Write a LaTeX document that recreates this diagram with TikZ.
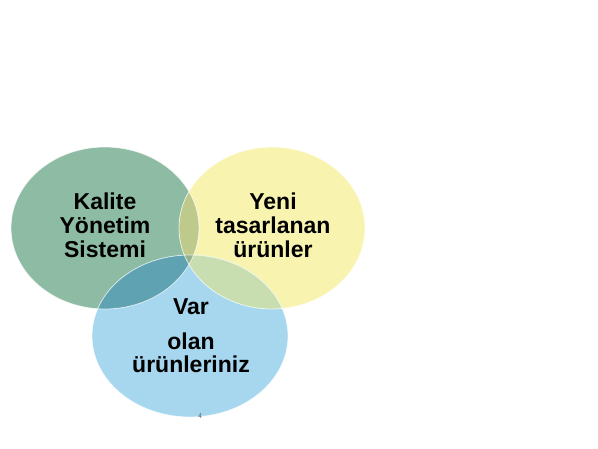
\documentclass[tikz,border=0pt]{standalone}
\usepackage{fontspec}
\setmainfont{Liberation Sans}
\definecolor{cG}{RGB}{142,187,163}
\definecolor{cY}{RGB}{248,244,176}
\definecolor{cB}{RGB}{166,215,238}
\definecolor{cGY}{RGB}{190,202,140}
\definecolor{cGB}{RGB}{95,163,178}
\definecolor{cYB}{RGB}{200,222,176}
\definecolor{cGYB}{RGB}{150,178,140}
\definecolor{cPg}{RGB}{90,100,110}
\begin{document}
\begin{tikzpicture}[x=1pt,y=-1pt,
  lbl/.style={font=\bfseries\fontsize{23}{27}\selectfont, text=black, anchor=base, inner sep=0pt},
  rim/.style={draw=white, draw opacity=0.7, line width=0.8pt}]
\useasboundingbox (0,0) rectangle (598,449);
\fill[white] (0,0) rectangle (598,449);
% base ellipses
\fill[cG] (105,228) ellipse [x radius=94, y radius=81];
\fill[cY] (272,228) ellipse [x radius=93, y radius=81];
\fill[cB] (190,336) ellipse [x radius=98, y radius=81];
% pairwise overlaps
\begin{scope}
  \clip (105,228) ellipse [x radius=94, y radius=81];
  \fill[cGY] (272,228) ellipse [x radius=93, y radius=81];
  \fill[cGB] (190,336) ellipse [x radius=98, y radius=81];
  \begin{scope}
    \clip (272,228) ellipse [x radius=93, y radius=81];
    \fill[cGYB] (190,336) ellipse [x radius=98, y radius=81];
  \end{scope}
\end{scope}
\begin{scope}
  \clip (272,228) ellipse [x radius=93, y radius=81];
  \begin{scope}
    \clip (190,336) ellipse [x radius=98, y radius=81];
    \fill[cYB] (190,336) ellipse [x radius=98, y radius=81];
    \fill[cGYB] (105,228) ellipse [x radius=94, y radius=81];
  \end{scope}
\end{scope}
% rims
\draw[rim] (105,228) ellipse [x radius=94, y radius=81];
\draw[rim] (272,228) ellipse [x radius=93, y radius=81];
\draw[rim] (190,336) ellipse [x radius=98, y radius=81];
% labels
\node[lbl] (k1) at (105,210) {Kalite};
\node[lbl] (k2) at (105,234) {Yönetim};
\node[lbl] (k3) at (105,258) {Sistemi};
\node[lbl] (y1) at (273,210) {Yeni};
\node[lbl] (y2) at (273,234) {tasarlanan};
\node[lbl] (y3) at (273,258) {ürünler};
\node[lbl] (v1) at (191,315) {Var};
\node[lbl] (v2) at (191,350) {olan};
\node[lbl] (v3) at (191,373) {ürünleriniz};
\node[font=\fontsize{7}{8}\selectfont, text=cPg, inner sep=0pt] (pg) at (200,416) {4};
\end{tikzpicture}
\end{document}
